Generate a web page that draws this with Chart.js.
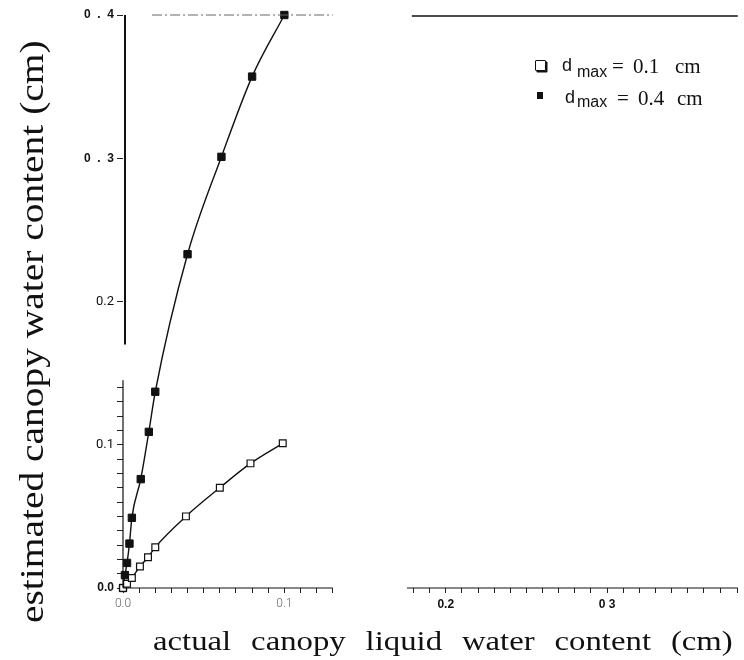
<!DOCTYPE html>
<html>
<head>
<meta charset="utf-8">
<script src="https://cdn.jsdelivr.net/npm/chart.js@4"></script>
<style>
  html, body { margin: 0; padding: 0; background: #fff; }
  #wrap { position: relative; width: 744px; height: 660px; }
  canvas { position: absolute; left: 0; top: 0; }
  .ttl { position: absolute; left: 0; top: 0; white-space: nowrap; font-family: "Liberation Serif", "Times New Roman", serif; color: #111; transform-origin: 0 0; }
  .lg { position: absolute; white-space: nowrap; color: #111; line-height: 1; }
  .sans { font-family: "Liberation Sans", Arial, sans-serif; }
  .serif { font-family: "Liberation Serif", "Times New Roman", serif; font-size: 21px; }
</style>
</head>
<body>
<div id="wrap">
  <canvas id="c" width="744" height="660"></canvas>
  <div class="ttl" id="ytitle" style="font-size:34px;line-height:34px;">estimated canopy water content (cm)</div>
  <div class="ttl" id="xtitle" style="font-size:28px;line-height:28px;word-spacing:10px;">actual canopy liquid water content (cm)</div>
  <!-- legend row 1 -->
  <div class="lg" style="left:535px;top:60px;width:9px;height:9px;border:1.3px solid #111;background:#fff;box-shadow:1.5px 1.5px 0 #111;border-radius:1px;"></div>
  <div class="lg sans" style="left:562px;top:56px;font-size:18px;">d</div>
  <div class="lg sans" style="left:577px;top:64px;font-size:16px;">max</div>
  <div class="lg serif" style="left:612px;top:56px;">=</div>
  <div class="lg serif" style="left:633px;top:56px;">0.1</div>
  <div class="lg serif" style="left:675px;top:56px;">cm</div>
  <!-- legend row 2 -->
  <div class="lg" style="left:537px;top:92px;width:6px;height:7px;background:#111;"></div>
  <div class="lg sans" style="left:565px;top:88px;font-size:18px;">d</div>
  <div class="lg sans" style="left:577px;top:94px;font-size:16px;">max</div>
  <div class="lg serif" style="left:617px;top:88px;">=</div>
  <div class="lg serif" style="left:638px;top:88px;">0.4</div>
  <div class="lg serif" style="left:677px;top:88px;">cm</div>
</div>
<script>
// ---- data ----
const actual01 = [0, 0.0025, 0.0055, 0.0105, 0.0155, 0.020, 0.039, 0.060, 0.079, 0.099];
const estimated01 = [0, 0.003, 0.007, 0.015, 0.0215, 0.0285, 0.050, 0.070, 0.087, 0.101];
const actual04 = [0, 0.0012, 0.0025, 0.004, 0.0055, 0.011, 0.016, 0.020, 0.040, 0.061, 0.080, 0.100];
const estimated04 = [0, 0.009, 0.0175, 0.031, 0.049, 0.076, 0.109, 0.137, 0.233, 0.301, 0.357, 0.400];
const yTickLabels = { '0': '0.0', '0.1': '0.1', '0.2': '0.2', '0.3': '0  .  3', '0.4': '0  .  4' };
const xTickLabels = { '0': '0.0', '0.1': '0.1', '0.2': '0.2', '0.3': '0 3' };

const pts = (xs, ys) => xs.map((x, i) => ({ x: x, y: ys[i] }));
const key = v => String(Math.round(v * 100) / 100);
const isMajor = v => Math.abs(v * 10 - Math.round(v * 10)) < 1e-6;

// titles placement
document.getElementById('ytitle').style.transform = 'translate(15px, 623px) rotate(-90deg) scaleX(1.16)';
document.getElementById('xtitle').style.transform = 'translate(153px, 627px) scaleX(1.17)';

// axis lines with the gaps seen in the reference
const axisLines = {
  id: 'axisLines',
  afterDraw(chart) {
    const { ctx, chartArea: a, scales: { x, y } } = chart;
    ctx.save();
    ctx.strokeStyle = '#111';
    ctx.lineWidth = 2;
    ctx.beginPath();
    ctx.moveTo(a.left + 2, y.getPixelForValue(0.4)); ctx.lineTo(a.left + 2, y.getPixelForValue(0.17));
    ctx.stroke();
    ctx.lineWidth = 1.2;
    ctx.beginPath();
    ctx.moveTo(a.left, y.getPixelForValue(0.145)); ctx.lineTo(a.left, y.getPixelForValue(0));
    ctx.stroke();
    ctx.lineWidth = 1.2;
    ctx.beginPath();
    ctx.moveTo(a.left, a.bottom); ctx.lineTo(x.getPixelForValue(0.13), a.bottom);
    ctx.moveTo(x.getPixelForValue(0.176), a.bottom); ctx.lineTo(a.right, a.bottom);
    ctx.stroke();
    ctx.lineWidth = 1;
    ctx.strokeStyle = '#666';
    ctx.setLineDash([10, 3, 2, 3]);
    ctx.beginPath();
    ctx.moveTo(x.getPixelForValue(0.018), a.top); ctx.lineTo(x.getPixelForValue(0.13), a.top);
    ctx.stroke();
    ctx.setLineDash([]);
    ctx.strokeStyle = '#111';
    ctx.lineWidth = 1.5;
    ctx.beginPath();
    ctx.moveTo(x.getPixelForValue(0.179), a.top + 1); ctx.lineTo(a.right, a.top + 1);
    ctx.stroke();
    ctx.restore();
  }
};

new Chart(document.getElementById('c'), {
  type: 'line',
  data: {
    datasets: [
      {
        label: 'dmax = 0.1 cm',
        data: pts(actual01, estimated01),
        borderColor: '#111', borderWidth: 1.4,
        pointStyle: 'rect', pointRadius: 4.8, pointBorderWidth: 1.2,
        pointBackgroundColor: '#fff', pointBorderColor: '#111',
        cubicInterpolationMode: 'monotone', fill: false
      },
      {
        label: 'dmax = 0.4 cm',
        data: pts(actual04, estimated04),
        borderColor: '#111', borderWidth: 1.4,
        pointStyle: 'rect', pointRadius: 5.2, pointBorderWidth: 1,
        pointBackgroundColor: '#111', pointBorderColor: '#111',
        cubicInterpolationMode: 'monotone', fill: false
      }
    ]
  },
  options: {
    responsive: false,
    animation: false,
    clip: false,
    layout: { padding: { top: 15, right: 0, left: 0, bottom: 0 } },
    plugins: { legend: { display: false }, tooltip: { enabled: false } },
    scales: {
      x: {
        type: 'linear', min: 0, max: 0.381,
        afterFit: s => { s.height = 72; },
        border: { display: false },
        grid: {
          drawOnChartArea: false, drawTicks: true, tickLength: 5, lineWidth: 1,
          color: ctx => {
            const v = ctx.tick ? ctx.tick.value : 0;
            return (v > 0.131 && v < 0.175) ? 'rgba(0,0,0,0)' : '#222';
          }
        },
        ticks: {
          stepSize: 0.01, autoSkip: false, maxRotation: 0, padding: 4,
          color: ctx => (ctx.tick && (key(ctx.tick.value) === '0' || key(ctx.tick.value) === '0.1')) ? '#666' : '#111',
          font: ctx => {
            const k = ctx.tick ? key(ctx.tick.value) : '';
            return (k === '0.2' || k === '0.3') ? { family: 'Liberation Sans', size: 12, weight: 'bold' } : { family: 'Roboto', size: 12, weight: '300' };
          },
          callback: v => isMajor(v) && xTickLabels[key(v)] !== undefined ? xTickLabels[key(v)] : ''
        }
      },
      y: {
        type: 'linear', min: 0, max: 0.4,
        afterFit: s => { s.width = 123; },
        border: { display: false },
        grid: {
          drawOnChartArea: false, drawTicks: true, tickLength: 6, lineWidth: 1,
          color: ctx => {
            const v = ctx.tick ? ctx.tick.value : 0;
            return (isMajor(v) || v < 0.145) ? '#222' : 'rgba(0,0,0,0)';
          }
        },
        ticks: {
          stepSize: 0.01, autoSkip: false, padding: 3, color: '#111',
          font: ctx => {
            const k = ctx.tick ? key(ctx.tick.value) : '';
            return (k === '0.1' || k === '0.2') ? { family: 'Roboto', size: 13, weight: '400' } : { family: 'Liberation Sans', size: 12, weight: 'bold' };
          },
          callback: v => isMajor(v) && yTickLabels[key(v)] !== undefined ? yTickLabels[key(v)] : ''
        }
      }
    }
  },
  plugins: [axisLines]
});
</script>
</body>
</html>
